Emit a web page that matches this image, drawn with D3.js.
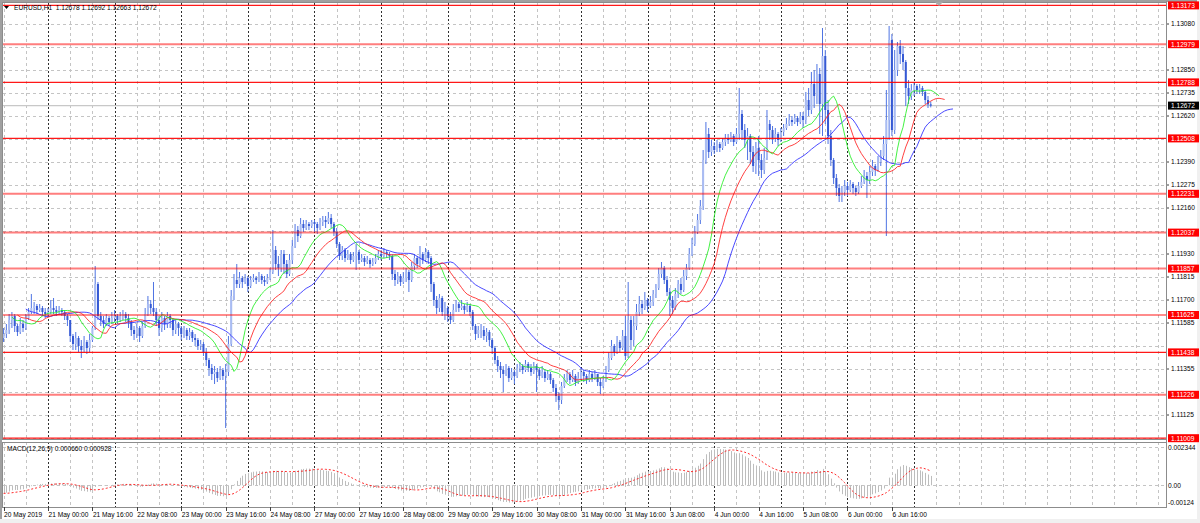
<!DOCTYPE html>
<html><head><meta charset="utf-8">
<script src="https://cdn.jsdelivr.net/npm/d3@7/dist/d3.min.js"></script>
<style>
body{margin:0;background:#f0f0f0;}
svg{display:block;}
text{font-family:"Liberation Sans",Arial,sans-serif;}
</style>
</head><body>
<svg id="chart" width="1200" height="523"></svg>
<script>
// ---------------- DATA (EURUSD H1, 20 May 2019 08:00 -> 7 Jun 2019 06:00) ----------------
const symbolTitle = "EURUSD,H1";
const headerOHLC = [1.12678, 1.12692, 1.12663, 1.12672];
const firstBar = 8;          // hour index of first bar counted from 20 May 00:00 (weekend skipped)
const firstOpen = 1.1151;

const closes = [
1.1153,1.1155,1.1160,1.1162,1.1157,1.1154,1.1158,1.1156,1.1161,1.1164,1.1166,1.1167,
1.1165,1.1166,1.1164,1.1163,1.1164,1.1166,1.1165,1.1164,1.1165,1.1164,1.1162,1.1160,
1.1152,1.1148,1.1151,1.1147,1.1145,1.1149,1.1146,1.1150,1.1156,1.1178,1.1162,1.1160,
1.1158,1.1161,1.1159,1.1161,1.1162,1.1160,1.1162,1.1163,1.1161,1.1159,1.1155,1.1153,
1.1156,1.1152,1.1157,1.1163,1.1168,1.1166,1.1164,1.1160,1.1156,1.1161,1.1158,1.1162,
1.1160,1.1155,1.1158,1.1156,1.1153,1.1155,1.1152,1.1154,1.1151,1.1150,1.1147,1.1148,
1.1144,1.1140,1.1136,1.1133,1.1134,1.1131,1.1135,1.1132,1.1134,1.1148,1.1172,1.1180,
1.1178,1.1181,1.1179,1.1181,1.1177,1.1180,1.1181,1.1180,1.1182,1.1180,1.1179,1.1181,
1.1184,1.1195,1.1188,1.1186,1.1193,1.1188,1.1183,1.1190,1.1197,1.1205,1.1202,1.1208,
1.1206,1.1208,1.1207,1.1209,1.1208,1.1206,1.1209,1.1210,1.1209,1.1211,1.1208,1.1204,
1.1198,1.1192,1.1195,1.1191,1.1193,1.1190,1.1192,1.1194,1.1190,1.1191,1.1189,1.1190,
1.1188,1.1189,1.1191,1.1193,1.1192,1.1194,1.1193,1.1192,1.1183,1.1180,1.1182,1.1179,
1.1181,1.1184,1.1180,1.1187,1.1191,1.1188,1.1193,1.1190,1.1194,1.1191,1.1178,1.1170,
1.1166,1.1171,1.1164,1.1166,1.1162,1.1160,1.1165,1.1168,1.1166,1.1167,1.1165,1.1167,
1.1164,1.1157,1.1153,1.1155,1.1155,1.1152,1.1154,1.1150,1.1146,1.1140,1.1137,1.1135,
1.1133,1.1136,1.1131,1.1134,1.1132,1.1136,1.1137,1.1135,1.1138,1.1136,1.1134,1.1137,
1.1135,1.1132,1.1134,1.1131,1.1133,1.1130,1.1126,1.1122,1.1120,1.1127,1.1131,1.1133,
1.1130,1.1132,1.1129,1.1131,1.1134,1.1132,1.1130,1.1133,1.1131,1.1133,1.1129,1.1127,
1.1130,1.1135,1.1141,1.1147,1.1144,1.1149,1.1146,1.1152,1.1142,1.1160,1.1150,1.1157,
1.1164,1.1168,1.1166,1.1170,1.1167,1.1169,1.1173,1.1176,1.1183,1.1186,1.1180,1.1174,
1.1170,1.1166,1.1173,1.1178,1.1175,1.1182,1.1186,1.1193,1.1198,1.1204,1.1210,1.1217,
1.1240,1.1253,1.1244,1.1247,1.1245,1.1248,1.1246,1.1249,1.1251,1.1250,1.1252,1.1249,
1.1253,1.1263,1.1255,1.1250,1.1252,1.1244,1.1237,1.1246,1.1240,1.1235,1.1241,1.1258,
1.1255,1.1251,1.1253,1.1250,1.1254,1.1256,1.1258,1.1260,1.1259,1.1261,1.1259,1.1262,
1.1260,1.1270,1.1265,1.1278,1.1272,1.1283,1.1268,1.1292,1.1265,1.1252,1.1240,1.1231,
1.1226,1.1222,1.1224,1.1227,1.1225,1.1228,1.1226,1.1224,1.1227,1.1229,1.1232,1.1230,
1.1234,1.1237,1.1235,1.1239,1.1242,1.1248,1.1260,1.1300,1.1255,1.1285,1.1297,1.1293,
1.1289,1.1276,1.1272,1.1275,1.1277,1.1275,1.1276,1.1274,1.1270,1.12678,1.12672];

const highs = [
1.1156,1.1158,1.1163,1.1164,1.1163,1.1158,1.1161,1.1160,1.1163,1.1166,1.1173,1.1169,
1.1168,1.1168,1.1167,1.1166,1.1166,1.1170,1.1171,1.1167,1.1167,1.1166,1.1165,1.1163,
1.1160,1.1153,1.1154,1.1152,1.1150,1.1152,1.1150,1.1153,1.1157,1.1187,1.1179,1.1164,
1.1162,1.1163,1.1162,1.1164,1.1165,1.1163,1.1164,1.1165,1.1164,1.1163,1.1160,1.1157,
1.1158,1.1157,1.1159,1.1166,1.1172,1.1170,1.1179,1.1166,1.1162,1.1164,1.1162,1.1164,
1.1163,1.1161,1.1160,1.1159,1.1157,1.1157,1.1156,1.1156,1.1155,1.1153,1.1151,1.1150,
1.1149,1.1146,1.1141,1.1138,1.1137,1.1136,1.1137,1.1136,1.1138,1.1152,1.1175,1.1183,
1.1188,1.1184,1.1182,1.1183,1.1182,1.1182,1.1183,1.1182,1.1184,1.1183,1.1182,1.1183,
1.1186,1.1205,1.1197,1.1192,1.1195,1.1195,1.1190,1.1193,1.1200,1.1208,1.1207,1.1211,
1.1210,1.1210,1.1209,1.1210,1.1210,1.1209,1.1211,1.1212,1.1212,1.1214,1.1213,1.1209,
1.1206,1.1199,1.1197,1.1196,1.1195,1.1194,1.1194,1.1198,1.1195,1.1193,1.1192,1.1192,
1.1191,1.1191,1.1193,1.1195,1.1195,1.1196,1.1195,1.1194,1.1193,1.1185,1.1184,1.1183,
1.1184,1.1186,1.1185,1.1189,1.1193,1.1192,1.1197,1.1194,1.1196,1.1195,1.1192,1.1179,
1.1172,1.1173,1.1172,1.1169,1.1167,1.1164,1.1168,1.1170,1.1169,1.1170,1.1168,1.1169,
1.1168,1.1165,1.1158,1.1157,1.1158,1.1157,1.1156,1.1155,1.1151,1.1147,1.1142,1.1139,
1.1137,1.1138,1.1137,1.1136,1.1135,1.1138,1.1139,1.1138,1.1140,1.1139,1.1138,1.1139,
1.1138,1.1136,1.1137,1.1135,1.1135,1.1134,1.1131,1.1128,1.1124,1.1129,1.1133,1.1135,
1.1134,1.1135,1.1133,1.1134,1.1136,1.1135,1.1133,1.1135,1.1134,1.1135,1.1133,1.1131,
1.1132,1.1137,1.1144,1.1150,1.1148,1.1152,1.1150,1.1155,1.1162,1.1179,1.1162,1.1162,
1.1168,1.1172,1.1170,1.1174,1.1171,1.1172,1.1175,1.1178,1.1186,1.1189,1.1187,1.1182,
1.1176,1.1172,1.1176,1.1180,1.1181,1.1185,1.1188,1.1196,1.1201,1.1207,1.1213,1.1220,
1.1245,1.1259,1.1256,1.1250,1.1249,1.1250,1.1249,1.1251,1.1253,1.1253,1.1254,1.1253,
1.1256,1.1276,1.1265,1.1258,1.1256,1.1253,1.1247,1.1249,1.1252,1.1243,1.1246,1.1265,
1.1260,1.1257,1.1256,1.1254,1.1256,1.1258,1.1261,1.1263,1.1262,1.1263,1.1262,1.1264,
1.1264,1.1274,1.1276,1.1284,1.1285,1.1288,1.1286,1.1306,1.1295,1.1270,1.1255,1.1241,
1.1233,1.1228,1.1227,1.1230,1.1229,1.1230,1.1229,1.1227,1.1229,1.1232,1.1235,1.1234,
1.1237,1.1240,1.1238,1.1242,1.1245,1.1252,1.1275,1.1307,1.1303,1.1295,1.1299,1.1300,
1.1297,1.1290,1.1280,1.1278,1.1279,1.1278,1.1278,1.1277,1.1275,1.1272,1.12692];

const lows = [
1.1149,1.1151,1.1153,1.1156,1.1154,1.1152,1.1153,1.1154,1.1155,1.1160,1.1163,1.1163,
1.1163,1.1164,1.1162,1.1161,1.1162,1.1163,1.1163,1.1162,1.1163,1.1162,1.1160,1.1157,
1.1149,1.1145,1.1145,1.1144,1.1141,1.1144,1.1143,1.1144,1.1149,1.1155,1.1160,1.1157,
1.1156,1.1157,1.1157,1.1158,1.1159,1.1158,1.1159,1.1160,1.1159,1.1156,1.1152,1.1150,
1.1151,1.1149,1.1151,1.1156,1.1162,1.1163,1.1162,1.1157,1.1152,1.1154,1.1155,1.1156,
1.1156,1.1152,1.1153,1.1152,1.1150,1.1151,1.1150,1.1150,1.1149,1.1147,1.1145,1.1145,
1.1142,1.1137,1.1132,1.1130,1.1128,1.1129,1.1130,1.1130,1.1106,1.1132,1.1147,1.1170,
1.1176,1.1176,1.1176,1.1178,1.1174,1.1176,1.1179,1.1178,1.1179,1.1178,1.1177,1.1178,
1.1180,1.1183,1.1185,1.1182,1.1184,1.1183,1.1181,1.1182,1.1188,1.1196,1.1199,1.1201,
1.1204,1.1205,1.1205,1.1206,1.1204,1.1203,1.1205,1.1207,1.1206,1.1208,1.1206,1.1202,
1.1196,1.1190,1.1190,1.1189,1.1190,1.1188,1.1189,1.1185,1.1188,1.1189,1.1187,1.1188,
1.1186,1.1187,1.1188,1.1190,1.1190,1.1191,1.1191,1.1190,1.1180,1.1177,1.1178,1.1177,
1.1178,1.1179,1.1174,1.1179,1.1185,1.1186,1.1187,1.1188,1.1189,1.1188,1.1174,1.1167,
1.1163,1.1164,1.1162,1.1160,1.1159,1.1158,1.1159,1.1164,1.1164,1.1165,1.1163,1.1164,
1.1162,1.1155,1.1150,1.1151,1.1151,1.1150,1.1149,1.1147,1.1143,1.1138,1.1134,1.1131,
1.1124,1.1132,1.1129,1.1130,1.1128,1.1131,1.1134,1.1133,1.1134,1.1134,1.1132,1.1133,
1.1124,1.1130,1.1131,1.1129,1.1130,1.1128,1.1124,1.1119,1.1115,1.1118,1.1126,1.1129,
1.1128,1.1129,1.1127,1.1128,1.1130,1.1129,1.1128,1.1129,1.1129,1.1130,1.1127,1.1123,
1.1126,1.1129,1.1134,1.1140,1.1142,1.1143,1.1144,1.1145,1.1140,1.1141,1.1145,1.1147,
1.1155,1.1162,1.1163,1.1165,1.1164,1.1166,1.1167,1.1171,1.1175,1.1181,1.1178,1.1172,
1.1162,1.1163,1.1165,1.1171,1.1173,1.1174,1.1180,1.1185,1.1192,1.1197,1.1203,1.1208,
1.1215,1.1238,1.1241,1.1242,1.1243,1.1244,1.1244,1.1245,1.1247,1.1248,1.1249,1.1247,
1.1248,1.1250,1.1250,1.1246,1.1240,1.1238,1.1234,1.1233,1.1232,1.1231,1.1233,1.1240,
1.1250,1.1248,1.1249,1.1247,1.1249,1.1252,1.1255,1.1257,1.1257,1.1258,1.1257,1.1258,
1.1256,1.1258,1.1262,1.1263,1.1266,1.1268,1.1253,1.1252,1.1258,1.1248,1.1237,1.1228,
1.1222,1.1219,1.1219,1.1222,1.1222,1.1224,1.1223,1.1222,1.1223,1.1226,1.1228,1.1221,
1.1228,1.1232,1.1232,1.1234,1.1237,1.1240,1.1202,1.1250,1.1252,1.1253,1.1282,1.1288,
1.1285,1.1267,1.1268,1.1270,1.1272,1.1273,1.1273,1.1272,1.1268,1.1266,1.12663];

// horizontal support / resistance levels (red)
const levels = [1.13173,1.12979,1.12788,1.12508,1.12231,1.12037,1.11857,1.11625,1.11438,1.11226,1.11009];
const softLevels = [1.12979,1.12231,1.12037,1.11857,1.11226];
const currentPrice = 1.12672;
// price-axis grid
const priceTicks = [1.13080,1.12965,1.12850,1.12735,1.12620,1.12505,1.12390,1.12275,1.12160,1.12045,
                    1.11930,1.11815,1.11700,1.11585,1.11470,1.11355,1.11240,1.11125,1.11010];
// time axis labels, one every 16 bars starting at firstBar
const timeLabels = ["20 May 2019","21 May 00:00","21 May 16:00","22 May 08:00","23 May 00:00","23 May 16:00",
  "24 May 08:00","27 May 00:00","27 May 16:00","28 May 08:00","29 May 00:00","29 May 16:00","30 May 08:00",
  "31 May 00:00","31 May 16:00","3 Jun 08:00","4 Jun 00:00","4 Jun 16:00","5 Jun 08:00","6 Jun 00:00","6 Jun 16:00"];
// Alligator (jaw 13/8, teeth 8/5, lips 5/3) – values of each line at its first drawn bar
const alligatorSeeds = {jaw:1.11655, teeth:1.11625, lips:1.11615};
// MACD(12,26,9)
const macdHeader = [0.000660, 0.000928];
const macdSeeds = {ema12:1.11560, ema26:1.11610, signal:-0.00050};
const macdTicks = [0.002344, 0.00, -0.00124];

// ---------------- LAYOUT ----------------
const svg = d3.select("#chart");
const L = 3, R = 1166, mainTop = 3, mainBot = 439, macdTop = 442, macdBot = 507;
const x = d3.scaleLinear().domain([24, 328]).range([48, 891.9]);
const y = d3.scaleLinear().domain([1.117, 1.1308]).range([300, 24]);
const ym = d3.scaleLinear().domain([-0.00124, 0.002344]).range([505.4, 447.3]);
const n = closes.length;
const lastBar = firstBar + n - 1;

svg.append("rect").attr("x",0).attr("y",0).attr("width",1197).attr("height",519).attr("fill","#ffffff");
const defs = svg.append("defs");
defs.append("clipPath").attr("id","cm").append("rect").attr("x",L).attr("y",mainTop).attr("width",R-L).attr("height",mainBot-mainTop);
defs.append("clipPath").attr("id","cd").append("rect").attr("x",L).attr("y",macdTop).attr("width",R-L).attr("height",macdBot-macdTop);

const gMain = svg.append("g").attr("clip-path","url(#cm)");
const gMacd = svg.append("g").attr("clip-path","url(#cd)");

// vertical grid (every 8 bars, day separators darker)
const vGrid = [];
for (let i = 0; x(i) <= R; i += 8) if (x(i) >= L) vGrid.push(i);
[gMain, gMacd].forEach((g, gi) => {
  const yy = gi === 0 ? [mainTop, mainBot] : [macdTop, macdBot];
  g.selectAll("line.vg").data(vGrid).join("line")
    .attr("x1", d => Math.round(x(d)) + 0.5).attr("x2", d => Math.round(x(d)) + 0.5)
    .attr("y1", yy[0]).attr("y2", yy[1])
    .attr("stroke", d => (d % 24 === 0 && d <= lastBar) ? "#303030" : "#c4c4c4")
    .attr("stroke-width", 1)
    .attr("stroke-dasharray", d => (d % 24 === 0 && d <= lastBar) ? "2,2" : "3,3");
});

// horizontal grid
gMain.selectAll("line.hg").data(priceTicks).join("line")
  .attr("x1", L).attr("x2", R)
  .attr("y1", d => Math.round(y(d)) + 0.5).attr("y2", d => Math.round(y(d)) + 0.5)
  .attr("stroke", "#c4c4c4").attr("stroke-dasharray", "3,3");
gMacd.selectAll("line.mg").data([0, macdTicks[0]]).join("line")
  .attr("x1", L).attr("x2", R)
  .attr("y1", d => Math.round(ym(d)) + 0.5).attr("y2", d => Math.round(ym(d)) + 0.5)
  .attr("stroke", "#c4c4c4").attr("stroke-dasharray", "3,3");

// current price line
gMain.append("line").attr("x1", L).attr("x2", R)
  .attr("y1", y(currentPrice)).attr("y2", y(currentPrice))
  .attr("stroke", "#c8c8c8").attr("stroke-width", 1.2);

// candles
const bars = closes.map((c, k) => {
  const o = k === 0 ? firstOpen : closes[k - 1];
  return {i: firstBar + k, o, c, h: Math.max(highs[k], o, c), l: Math.min(lows[k], o, c)};
});
const gC = gMain.append("g");
gC.selectAll("line.w").data(bars).join("line")
  .attr("x1", d => x(d.i)).attr("x2", d => x(d.i))
  .attr("y1", d => y(d.h)).attr("y2", d => y(d.l))
  .attr("stroke", "#4f74e3").attr("stroke-width", 1);
gC.selectAll("rect.b").data(bars).join("rect")
  .attr("x", d => x(d.i) - 1).attr("width", 2)
  .attr("y", d => y(Math.max(d.o, d.c)))
  .attr("height", d => Math.max(1, Math.abs(y(d.o) - y(d.c))))
  .attr("fill", d => d.c >= d.o ? "#a9bcf2" : "#3559d4");

// Alligator
const med = bars.map(d => (d.h + d.l) / 2);
function smma(period, seed) {
  const out = [seed];
  for (let k = 1; k < med.length; k++) out.push((out[k - 1] * (period - 1) + med[k]) / period);
  return out;
}
const alligator = [
  {v: smma(13, alligatorSeeds.jaw), shift: 8, color: "#2a2aff"},
  {v: smma(8, alligatorSeeds.teeth), shift: 5, color: "#ff2020"},
  {v: smma(5, alligatorSeeds.lips), shift: 3, color: "#22ee22"}
];
const line = d3.line().x(d => x(d[0])).y(d => y(d[1]));
alligator.forEach(a => {
  gMain.append("path")
    .attr("d", line(a.v.map((v, k) => [firstBar + k + a.shift, v])))
    .attr("fill", "none").attr("stroke", a.color).attr("stroke-width", 1).attr("opacity", 0.85);
});

// Level lines
gMain.selectAll("line.lv").data(levels).join("line")
  .attr("x1", L).attr("x2", R)
  .attr("y1", d => y(d)).attr("y2", d => y(d))
  .attr("stroke", "#ff0000")
  .attr("stroke-width", d => softLevels.includes(d) ? 2 : 1.2)
  .attr("opacity", d => softLevels.includes(d) ? 0.5 : 0.9);

// MACD
let e12 = macdSeeds.ema12, e26 = macdSeeds.ema26;
const a12 = 2 / 13, a26 = 2 / 27;
const macd = closes.map((c, k) => {
  e12 = e12 + a12 * (c - e12);
  e26 = e26 + a26 * (c - e26);
  return e12 - e26;
});
const signal = macd.map((m, k) => {
  let s = 0;
  for (let j = k - 8; j <= k; j++) s += j >= 0 ? macd[j] : macdSeeds.signal;
  return s / 9;
});
gMacd.selectAll("line.h").data(macd).join("line")
  .attr("x1", (d, k) => Math.round(x(firstBar + k)) + 0.5).attr("x2", (d, k) => Math.round(x(firstBar + k)) + 0.5)
  .attr("y1", ym(0)).attr("y2", d => ym(d))
  .attr("stroke", "#bdbdbd").attr("stroke-width", 1);
gMacd.append("path")
  .attr("d", d3.line().x((d, k) => x(firstBar + k)).y(d => ym(d))(signal))
  .attr("fill", "none").attr("stroke", "#ff2a2a").attr("stroke-width", 1).attr("stroke-dasharray", "2,2");

// panel frames
[[mainTop - 1, mainBot], [macdTop, macdBot]].forEach(p => {
  svg.append("rect").attr("x", L - 1 + 0.5).attr("y", p[0] + 0.5).attr("width", R - L + 1).attr("height", p[1] - p[0])
    .attr("fill", "none").attr("stroke", "#8c8c8c").attr("stroke-width", 1);
});
svg.append("rect").attr("x",0).attr("y",0).attr("width",2).attr("height",519).attr("fill","#a0a0a0");
svg.append("rect").attr("x",0).attr("y",0).attr("width",1197).attr("height",2).attr("fill","#a0a0a0");

// chart shift marker
svg.append("path").attr("d", `M${x(345)-4},2 L${x(345)+4},2 L${x(345)},6 Z`).attr("fill", "#a8a8a8");

// price axis labels
const fs = 6.6;
const blocked = levels.concat([currentPrice]);
const tickShown = priceTicks.filter(t => blocked.every(b => Math.abs(y(b) - y(t)) > 7));
svg.selectAll("line.pt").data(tickShown).join("line")
  .attr("x1", R).attr("x2", R + 3).attr("y1", d => y(d)).attr("y2", d => y(d)).attr("stroke", "#404040");
svg.selectAll("text.pt").data(tickShown).join("text")
  .attr("x", R + 5).attr("y", d => y(d) + 2.4).attr("font-size", fs).attr("fill", "#000")
  .text(d => d.toFixed(5));
const boxes = levels.map(v => ({v, bg: "#ff0000"})).concat([{v: currentPrice, bg: "#000000"}]);
boxes.forEach(b => {
  const cy = Math.max(4, y(b.v));
  svg.append("rect").attr("x", R + 2).attr("y", cy - 4).attr("width", 31).attr("height", 8).attr("fill", b.bg);
  svg.append("text").attr("x", R + 5).attr("y", cy + 2.4).attr("font-size", fs).attr("fill", "#ffffff").text(b.v.toFixed(5));
});
// MACD axis labels
macdTicks.forEach(t => {
  const yy = Math.min(503, Math.max(447, ym(t)));
  svg.append("text").attr("x", R + 2).attr("y", yy + 2.4).attr("font-size", fs).attr("fill", "#000")
    .text(t === 0 ? "0.00" : String(t));
});

// time axis
svg.append("line").attr("x1", R + 0.5).attr("x2", R + 0.5).attr("y1", 1).attr("y2", macdBot + 1).attr("stroke", "#8c8c8c");
svg.selectAll("line.tt").data(timeLabels).join("line")
  .attr("x1", (d, k) => Math.round(x(firstBar + 16 * k)) + 0.5).attr("x2", (d, k) => Math.round(x(firstBar + 16 * k)) + 0.5)
  .attr("y1", macdBot).attr("y2", macdBot + 4).attr("stroke", "#404040");
svg.selectAll("text.tl").data(timeLabels).join("text")
  .attr("x", (d, k) => x(firstBar + 16 * k) + 0.5).attr("y", 516.5)
  .attr("font-size", fs).attr("fill", "#000").text(d => d);

// headers
svg.append("path").attr("d", "M4,6 L9,6 L6.5,9 Z").attr("fill", "#000");
svg.append("text").attr("x", 14).attr("y", 10).attr("font-size", fs).attr("fill", "#000")
  .attr("xml:space", "preserve")
  .text(symbolTitle + "  " + headerOHLC.map(v => v.toFixed(5)).join(" "));
svg.append("text").attr("x", 7).attr("y", 450.5).attr("font-size", fs).attr("fill", "#000")
  .text("MACD(12,26,9) " + macdHeader.map(v => v.toFixed(6)).join(" "));
</script>
</body></html>
